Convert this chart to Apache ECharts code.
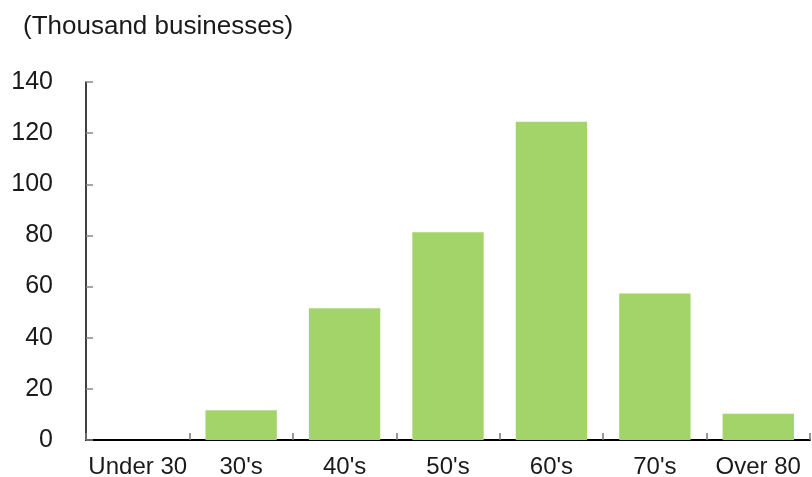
<!DOCTYPE html>
<html>
<head>
<meta charset="utf-8">
<script src="https://cdn.jsdelivr.net/npm/echarts@6/dist/echarts.min.js"></script>
<style>
  html, body { margin: 0; padding: 0; background: #fff; }
  #chart { width: 812px; height: 477px; }
</style>
</head>
<body>
<div id="chart"></div>
<script>
// Businesses by age group of the owner (thousands)
const categories = ["Under 30", "30's", "40's", "50's", "60's", "70's", "Over 80"];
const businesses = [0, 11.6, 51.5, 81.2, 124.5, 57.3, 10.3];
const yTicks = [0, 20, 40, 60, 80, 100, 120, 140];

const FONT = "'Liberation Sans', Arial, sans-serif";

const chart = echarts.init(document.getElementById('chart'), null, { renderer: 'canvas' });
chart.setOption({
  animation: false,
  backgroundColor: '#ffffff',
  title: {
    text: '(Thousand businesses)',
    left: 18,
    top: 9,
    textStyle: { fontFamily: FONT, fontSize: 26, fontWeight: 'normal', color: '#1a1a1a' }
  },
  grid: { left: 86, right: 2, top: 82, bottom: 37, containLabel: false, outerBoundsMode: 'none' },
  xAxis: {
    type: 'category',
    data: categories,
    axisLine: { lineStyle: { color: '#000', width: 2 } },
    axisTick: { show: true, inside: true, length: 7, interval: 0, alignWithLabel: false, lineStyle: { color: '#777', width: 1.5 } },
    axisLabel: { fontFamily: FONT, fontSize: 24, color: '#1a1a1a', margin: 15, interval: 0, hideOverlap: false },
    splitLine: { show: false }
  },
  yAxis: {
    type: 'value',
    min: yTicks[0],
    max: yTicks[yTicks.length - 1],
    interval: yTicks[1] - yTicks[0],
    axisLine: { show: true, lineStyle: { color: '#000', width: 1.5 } },
    axisTick: { show: true, inside: true, length: 7, lineStyle: { color: '#888', width: 1.5 } },
    axisLabel: { fontFamily: FONT, fontSize: 25, color: '#1a1a1a', margin: 33 },
    splitLine: { show: false }
  },
  series: [{
    type: 'bar',
    data: businesses,
    barWidth: '69%',
    itemStyle: { color: '#a2d46a' }
  }]
});
</script>
</body>
</html>
